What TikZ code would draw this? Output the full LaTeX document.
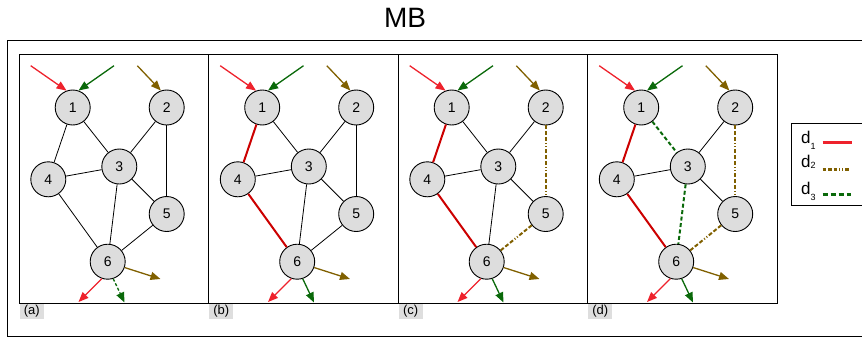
\documentclass[tikz,border=0pt]{standalone}
\usepackage{fontspec}
\setmainfont{Liberation Sans}
\usetikzlibrary{arrows.meta}
\definecolor{arrred}{RGB}{238,34,44}
\definecolor{pathred}{RGB}{204,0,0}
\definecolor{mygreen}{RGB}{10,105,10}
\definecolor{myolive}{RGB}{128,96,0}
\definecolor{nodegray}{RGB}{221,221,221}
\definecolor{labgray}{RGB}{222,222,222}
\tikzset{
  vtx/.style={circle,draw=black,line width=0.9pt,fill=nodegray,minimum size=35pt,inner sep=0pt,font=\fontsize{14}{14}\selectfont},
  frame/.style={draw=black,line width=1pt},
  edge/.style={draw=black,line width=0.8pt},
  redpath/.style={draw=pathred,line width=2pt},
  olivepath/.style={draw=myolive,line width=2pt,dash pattern=on 4pt off 2pt on 4pt off 2pt on 4pt off 2pt on 1pt off 2pt on 1pt off 2pt},
  greenpath/.style={draw=mygreen,line width=2pt,dash pattern=on 4pt off 2.5pt},
  flow/.style={line width=1.3pt,-{Triangle[length=10pt,width=8pt]}},
  lab/.style={fill=labgray,anchor=north west,minimum width=24pt,minimum height=15pt,inner sep=0pt,font=\fontsize{13}{13}\selectfont},
  legtxt/.style={anchor=base west,inner sep=0pt,font=\fontsize{17}{17}\selectfont}
}
\newcommand{\mbpanel}[3]{%
  \begin{scope}[xshift=#2pt]
    \draw[frame] (19,54) rectangle (208.5,303);
    \node[lab] (#1lab) at (19.5,303.5) {(#1)};
    \coordinate (#1r1s) at (30.7,65.7);
    \coordinate (#1g1s) at (114,65.7);
    \coordinate (#1o2s) at (137.3,65.7);
    \coordinate (#1r6e) at (78.5,302);
    \coordinate (#1g6e) at (124.5,302.5);
    \coordinate (#1o6e) at (160.5,279);
    \node[vtx] (#11) at (72.7,107.5) {1};
    \node[vtx] (#12) at (166.7,107.5) {2};
    \node[vtx] (#13) at (119.3,166.5) {3};
    \node[vtx] (#14) at (48.3,179.3) {4};
    \node[vtx] (#15) at (166.7,214) {5};
    \node[vtx] (#16) at (107.7,261.7) {6};
    \draw[flow,arrred] (#1r1s) -- (#11.110);
    \draw[flow,mygreen] (#1g1s) -- (#11.71);
    \draw[flow,myolive] (#1o2s) -- (#12.109);
    \draw[flow,arrred] (#16.251) -- (#1r6e);
    \draw[flow,myolive] (#16.341) -- (#1o6e);
    #3
  \end{scope}}
\begin{document}
\begin{tikzpicture}[x=1pt,y=-1pt]
\useasboundingbox (0,0) rectangle (862,338);
\node[font=\fontsize{28}{28}\selectfont] (title) at (405,18) {MB};
\draw[frame] (862,40) -- (7,40) -- (7,336) -- (862,336);
% panel (a)
\mbpanel{a}{0}{%
  \draw[edge] (a1) -- (a4); \draw[edge] (a1) -- (a3);
  \draw[edge] (a2) -- (a3); \draw[edge] (a2) -- (a5);
  \draw[edge] (a4) -- (a3); \draw[edge] (a3) -- (a5);
  \draw[edge] (a3) -- (a6); \draw[edge] (a4) -- (a6);
  \draw[edge] (a5) -- (a6);
  \draw[flow,mygreen,dash pattern=on 3pt off 2pt] (a6.288) -- (ag6e);}
% panel (b)
\mbpanel{b}{189.5}{%
  \draw[redpath] (b1) -- (b4); \draw[edge] (b1) -- (b3);
  \draw[edge] (b2) -- (b3); \draw[edge] (b2) -- (b5);
  \draw[edge] (b4) -- (b3); \draw[edge] (b3) -- (b5);
  \draw[edge] (b3) -- (b6); \draw[redpath] (b4) -- (b6);
  \draw[edge] (b5) -- (b6);
  \draw[flow,mygreen] (b6.288) -- (bg6e);}
% panel (c)
\mbpanel{c}{379}{%
  \draw[redpath] (c1) -- (c4); \draw[edge] (c1) -- (c3);
  \draw[edge] (c2) -- (c3); \draw[olivepath] (c2) -- (c5);
  \draw[edge] (c4) -- (c3); \draw[edge] (c3) -- (c5);
  \draw[edge] (c3) -- (c6); \draw[redpath] (c4) -- (c6);
  \draw[olivepath] (c5) -- (c6);
  \draw[flow,mygreen] (c6.288) -- (cg6e);}
% panel (d)
\mbpanel{d}{568.5}{%
  \draw[redpath] (d1) -- (d4); \draw[greenpath] (d1) -- (d3);
  \draw[edge] (d2) -- (d3); \draw[olivepath] (d2) -- (d5);
  \draw[edge] (d4) -- (d3); \draw[edge] (d3) -- (d5);
  \draw[greenpath] (d3) -- (d6); \draw[redpath] (d4) -- (d6);
  \draw[olivepath] (d5) -- (d6);
  \draw[flow,mygreen] (d6.288) -- (dg6e);}
% legend
\draw[frame] (862,123.3) -- (791.3,123.3) -- (791.3,205.7) -- (862,205.7);
\node[legtxt] (l1) at (801,143.3) {d\raisebox{-6pt}{\fontsize{9}{9}\selectfont 1}};
\node[legtxt] (l2) at (801,167.7) {d\raisebox{-1pt}{\fontsize{9}{9}\selectfont 2}};
\node[legtxt] (l3) at (801,194.3) {d\raisebox{-6pt}{\fontsize{9}{9}\selectfont 3}};
\coordinate (l1a) at (822.5,142.3); \coordinate (l1b) at (851.5,142.3);
\coordinate (l2a) at (822.5,169); \coordinate (l2b) at (850.5,169);
\coordinate (l3a) at (822.5,194); \coordinate (l3b) at (850.5,194);
\draw[draw=arrred,line width=3pt] (l1a) -- (l1b);
\draw[draw=myolive,line width=3pt,dash pattern=on 3.5pt off 2pt on 3.5pt off 2pt on 3.5pt off 2pt on 1.2pt off 2pt on 1.2pt off 2pt] (l2a) -- (l2b);
\draw[draw=mygreen,line width=3pt,dash pattern=on 5pt off 3pt] (l3a) -- (l3b);
\end{tikzpicture}
\end{document}
